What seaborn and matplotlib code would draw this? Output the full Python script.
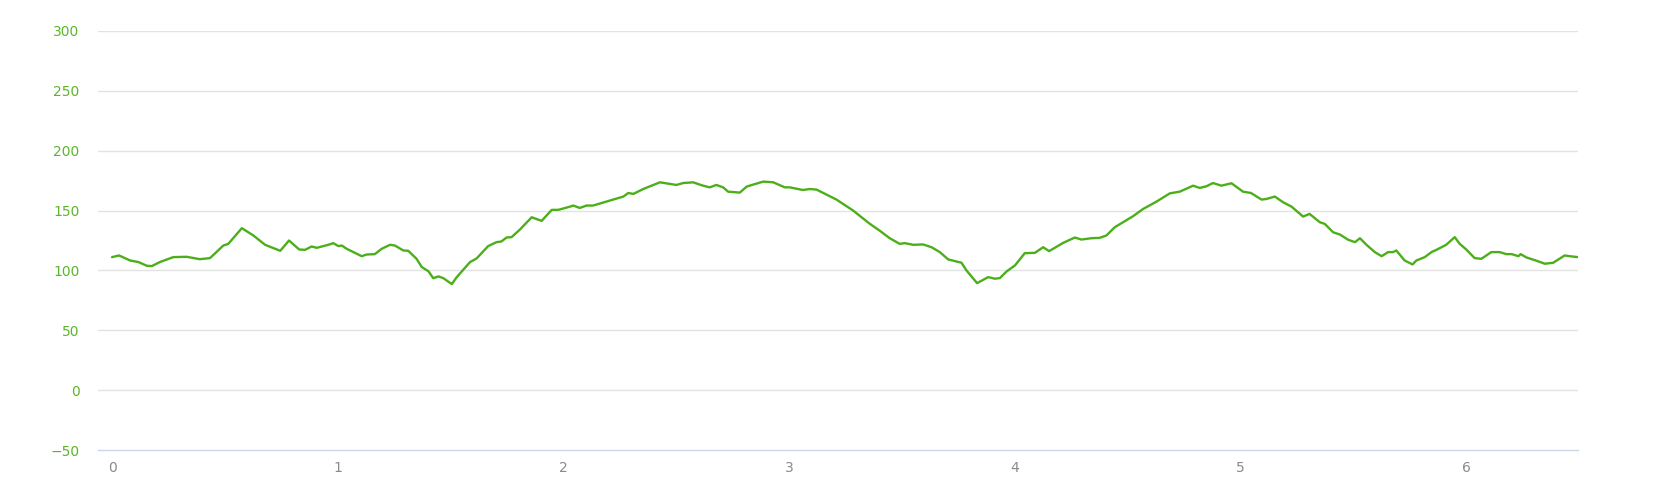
import matplotlib
matplotlib.use("Agg")
import matplotlib.pyplot as plt
import seaborn as sns
import pandas as pd

distance = [
    0.000, 0.031, 0.080, 0.117, 0.154, 0.176, 0.212, 0.271, 0.330, 0.389,
    0.434, 0.493, 0.515, 0.575, 0.626, 0.678, 0.745, 0.784, 0.829, 0.855,
    0.884, 0.907, 0.958, 0.980, 1.003, 1.018, 1.040, 1.106, 1.128, 1.164,
    1.194, 1.231, 1.253, 1.290, 1.312, 1.349, 1.372, 1.401, 1.423, 1.446,
    1.468, 1.505, 1.527, 1.586, 1.615, 1.666, 1.703, 1.725, 1.748, 1.770,
    1.807, 1.859, 1.903, 1.948, 1.977, 2.029, 2.043, 2.072, 2.102, 2.131,
    2.205, 2.265, 2.287, 2.309, 2.353, 2.427, 2.500, 2.530, 2.574, 2.618,
    2.648, 2.677, 2.707, 2.729, 2.781, 2.811, 2.840, 2.885, 2.929, 2.980,
    3.002, 3.060, 3.091, 3.121, 3.180, 3.209, 3.283, 3.357, 3.400, 3.445,
    3.489, 3.512, 3.549, 3.593, 3.630, 3.667, 3.704, 3.733, 3.763, 3.785,
    3.832, 3.881, 3.911, 3.933, 3.963, 4.000, 4.043, 4.088, 4.125, 4.151,
    4.213, 4.265, 4.294, 4.338, 4.375, 4.405, 4.442, 4.523, 4.568, 4.627,
    4.686, 4.730, 4.789, 4.818, 4.848, 4.877, 4.914, 4.959, 5.010, 5.045,
    5.092, 5.114, 5.151, 5.188, 5.225, 5.276, 5.305, 5.350, 5.372, 5.409,
    5.439, 5.476, 5.506, 5.528, 5.557, 5.594, 5.624, 5.653, 5.675, 5.689,
    5.726, 5.761, 5.778, 5.815, 5.845, 5.870, 5.910, 5.948, 5.970, 5.999,
    6.036, 6.066, 6.110, 6.147, 6.177, 6.200, 6.230, 6.240, 6.266, 6.310,
    6.347, 6.384, 6.435, 6.457, 6.494,
]

elevation = [
    111.1, 112.5, 108.3, 107.0, 103.9, 103.6, 107.0, 111.1, 111.4, 109.4,
    110.3, 120.8, 122.2, 135.3, 129.2, 121.4, 116.4, 125.0, 117.5, 117.2,
    120.0, 118.9, 121.4, 122.8, 120.3, 120.8, 118.0, 111.9, 113.3, 113.6,
    118.0, 121.4, 120.8, 116.7, 116.4, 109.7, 102.8, 99.4, 93.5, 95.0,
    93.5, 88.6, 94.4, 107.0, 110.0, 120.3, 123.6, 124.2, 127.5, 127.8,
    134.2, 144.4, 141.4, 150.6, 150.6, 153.3, 154.2, 152.2, 154.2, 154.2,
    158.3, 161.7, 164.7, 163.9, 168.0, 173.6, 171.4, 173.0, 173.6, 170.8,
    169.4, 171.4, 169.4, 165.8, 165.0, 170.0, 171.7, 174.2, 173.6, 169.4,
    169.4, 167.2, 168.0, 167.5, 161.9, 159.2, 150.0, 138.9, 133.3, 126.9,
    122.2, 122.8, 121.4, 121.7, 119.4, 115.3, 109.2, 107.8, 106.4, 100.0,
    89.4, 94.4, 93.1, 93.6, 99.2, 104.2, 114.4, 114.7, 119.4, 116.1,
    123.0, 127.5, 125.8, 126.9, 127.2, 129.2, 136.1, 145.3, 151.4, 157.5,
    164.4, 165.8, 170.8, 168.9, 170.3, 173.0, 170.8, 172.8, 165.8, 164.7,
    159.2, 159.7, 161.7, 156.9, 153.3, 145.0, 147.2, 140.3, 138.9, 131.9,
    130.0, 125.6, 123.6, 126.9, 121.4, 115.3, 111.9, 115.3, 115.3, 116.7,
    108.3, 105.0, 108.3, 111.1, 115.3, 117.5, 121.4, 127.8, 122.2, 117.5,
    110.3, 109.7, 115.3, 115.3, 113.6, 113.6, 111.9, 113.6, 110.8, 108.1,
    105.6, 106.4, 112.5, 111.9, 111.1,
]

y_ticks = [-50, 0, 50, 100, 150, 200, 250, 300]
x_ticks = [0, 1, 2, 3, 4, 5, 6]

LINE_COLOR = "#4caf1a"
YLABEL_COLOR = "#5cb62a"

sns.set_theme(style="white")
plt.rcParams["font.family"] = ["DejaVu Sans"]

df = pd.DataFrame({"distance": distance, "elevation": elevation})

fig = plt.figure(figsize=(16.56, 5.0), dpi=100)
ax = fig.add_axes([0.0594, 0.10, 0.8935, 0.838])

sns.lineplot(data=df, x="distance", y="elevation", ax=ax,
             color=LINE_COLOR, linewidth=1.7, sort=False)

ax.set_xlim(-0.0606, 6.494)
ax.set_ylim(-50, 300)
ax.set_yticks(y_ticks)
ax.set_xticks(x_ticks)
ax.set_xticklabels([str(t) for t in x_ticks])
ax.set_yticklabels([("\u2212" + str(abs(t))) if t < 0 else str(t) for t in y_ticks])

for t in y_ticks[1:]:
    ax.axhline(t, color="#e3e3e3", linewidth=1.0, zorder=0)

for s in ["top", "right", "left"]:
    ax.spines[s].set_visible(False)
ax.spines["bottom"].set_color("#ccd6eb")
ax.spines["bottom"].set_linewidth(1.0)

ax.tick_params(axis="y", length=0, pad=13.5, labelsize=10, labelcolor=YLABEL_COLOR)
ax.tick_params(axis="x", length=0, pad=8, labelsize=10, labelcolor="#8a8a8a")
ax.set_xlabel("")
ax.set_ylabel("")
ax.grid(False)

fig.savefig("out.png", dpi=100, facecolor="white")
